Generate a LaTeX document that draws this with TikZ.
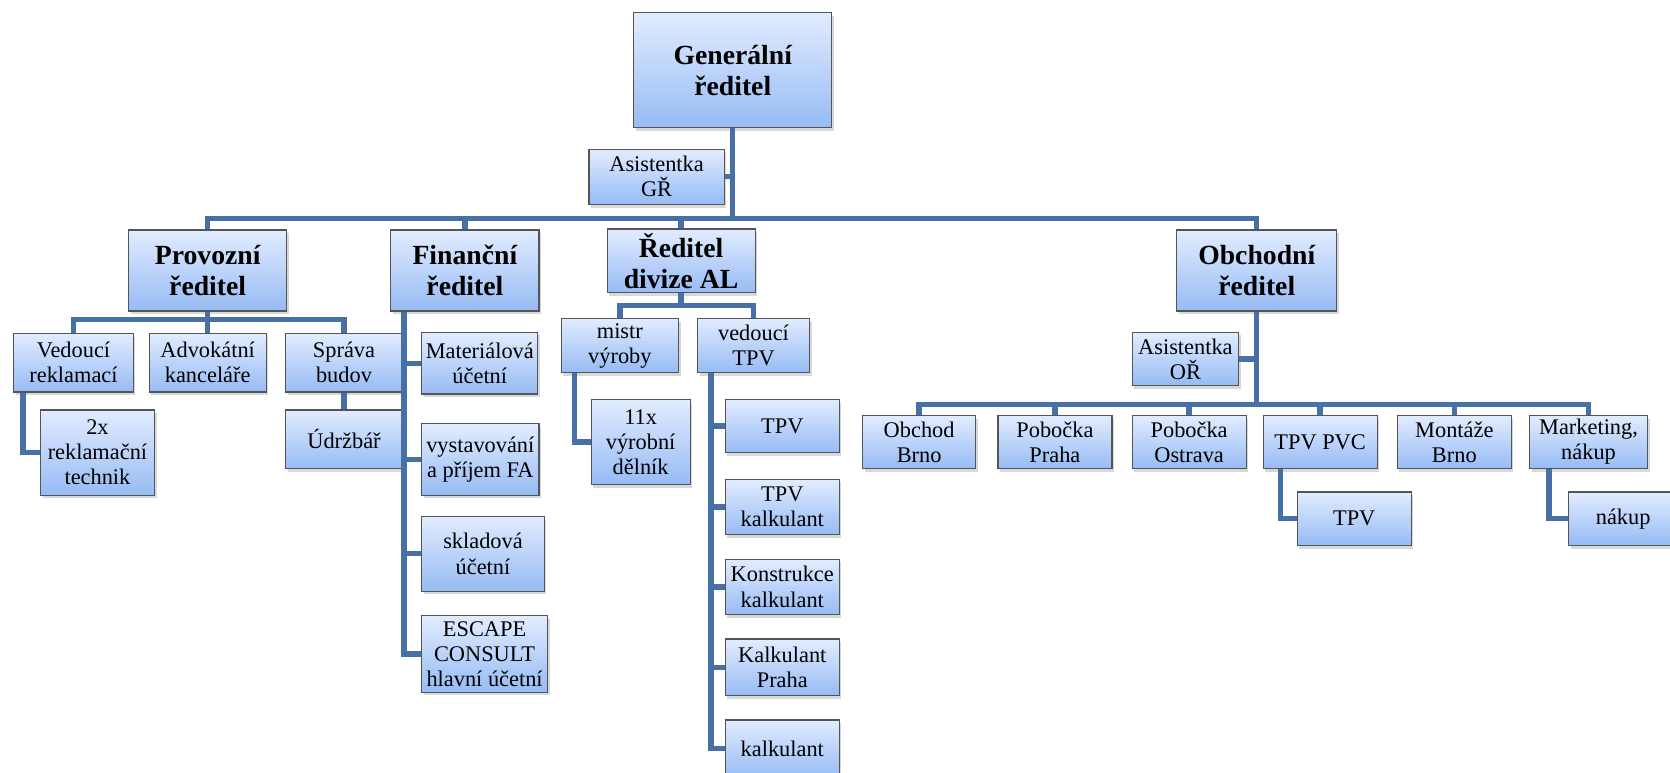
\documentclass[tikz,border=0pt]{standalone}
\usepackage{fontspec}
\setmainfont{Liberation Serif}
\usetikzlibrary{shadows,calc}
\definecolor{conncol}{RGB}{70,112,166}
\definecolor{boxtop}{RGB}{226,236,255}
\definecolor{boxbot}{RGB}{150,187,244}
\definecolor{boxline}{RGB}{85,85,85}
\tikzset{
  box/.style={draw=boxline, line width=1.1pt, top color=boxtop, bottom color=boxbot,
    align=center, inner sep=0pt,
    drop shadow={opacity=0.3, shadow xshift=2pt, shadow yshift=-3pt},
    font=\fontsize{21}{23.5}\selectfont},
  bigbox/.style={box, font=\fontsize{26}{29}\selectfont\bfseries},
  conn/.style={draw=conncol, line width=5pt},
}
\newcommand{\bx}[7][box]{\node[#1, minimum width={#5pt-#3pt}, minimum height={#6pt-#4pt}] (#2) at ({(#3+#5)/2},{(#4+#6)/2}) {#7};}
\begin{document}
\begin{tikzpicture}[x=1pt,y=-1pt]
\fill[white] (0,0) rectangle (1568,725);
\useasboundingbox (0,0) rectangle (1568,725);
% coordinates for bars
\coordinate (bar1) at (0,205);
\coordinate (pbar) at (0,300);
\coordinate (rbar) at (0,287);
\coordinate (obar) at (0,380);
% boxes
\bx[bigbox]{gr}{595}{12}{781}{120}{Generální\\ředitel}
\bx{agr}{553}{140}{680}{192}{Asistentka\\GŘ}
\bx[bigbox]{prov}{121}{216}{269}{292}{Provozní\\ředitel}
\bx[bigbox]{fin}{367}{216}{506}{292}{Finanční\\ředitel}
\bx[bigbox]{ral}{570}{215}{709}{275}{Ředitel\\divize AL}
\bx[bigbox]{obr}{1105}{216}{1255}{292}{Obchodní\\ředitel}
\bx{vr}{13}{313}{125}{368}{Vedoucí\\reklamací}
\bx{ak}{140}{313}{250}{368}{Advokátní\\kanceláře}
\bx{sb}{268}{313}{378}{368}{Správa\\budov}
\bx{tech}{38}{385}{145}{465}{2x\\reklamační\\technik}
\bx{ud}{268}{385}{378}{440}{Údržbář}
\bx{mat}{396}{312}{505}{370}{Materiálová\\účetní}
\bx{vys}{396}{398}{506}{465}{vystavování\\a příjem FA}
\bx{skl}{396}{485}{511}{555}{skladová\\účetní}
\bx{esc}{396}{578}{514}{650}{ESCAPE\\CONSULT\\hlavní účetní}
\bx{mv}{527}{299}{637}{350}{mistr\\výroby}
\bx{vt}{655}{299}{760}{350}{vedoucí\\TPV}
\bx{del}{555}{375}{648}{455}{11x\\výrobní\\dělník}
\bx{ta}{681}{375}{788}{425}{TPV}
\bx{tb}{681}{450}{788}{502}{TPV\\kalkulant}
\bx{tc}{681}{525}{788}{577}{Konstrukce\\kalkulant}
\bx{td}{681}{600}{788}{653}{Kalkulant\\Praha}
\bx{te}{681}{676}{788}{730}{kalkulant}
\bx{aor}{1063}{312}{1163}{362}{Asistentka\\OŘ}
\bx{oa}{810}{390}{916}{440}{Obchod\\Brno}
\bx{ob}{937}{390}{1044}{440}{Pobočka\\Praha}
\bx{oc}{1063}{390}{1170}{440}{Pobočka\\Ostrava}
\bx{od}{1186}{390}{1293}{440}{TPV PVC}
\bx{oe}{1312}{390}{1419}{440}{Montáže\\Brno}
\bx{of}{1436}{390}{1547}{440}{Marketing,\\nákup}
\bx{tp}{1218}{462}{1325}{512}{TPV}
\bx{nak}{1473}{462}{1575}{512}{nákup}
% connectors
\begin{scope}[on background layer/.try]
\end{scope}
\draw[conn] (gr.south) -- (gr.south |- bar1);
\draw[conn] (agr.east) -- (agr.east -| gr.south);
\draw[conn] (prov.north) -- (prov.north |- bar1) -- (obr.north |- bar1) -- (obr.north);
\draw[conn] (fin.north) -- (fin.north |- bar1);
\draw[conn] (ral.north) -- (ral.north |- bar1);
% Provozni
\draw[conn] (prov.south) -- (ak.north);
\draw[conn] (vr.north) -- (vr.north |- pbar) -- (sb.north |- pbar) -- (sb.north);
\coordinate (vrx) at ($(vr.south west)+(9,0)$);
\draw[conn] (vrx) |- (tech.west);
\draw[conn] (sb.south) -- (ud.north);
% Financni
\coordinate (fx) at ($(fin.south west)+(13,0)$);
\draw[conn] (fx) |- (esc.west);
\foreach \n in {mat,vys,skl} \draw[conn] (\n.west) -- (\n.west -| fx);
% Reditel AL
\draw[conn] (ral.south) -- (ral.south |- rbar);
\draw[conn] (mv.north) -- (mv.north |- rbar) -- (vt.north |- rbar) -- (vt.north);
\coordinate (mvx) at ($(mv.south west)+(13,0)$);
\draw[conn] (mvx) |- (del.west);
\coordinate (vtx) at ($(vt.south west)+(13,0)$);
\draw[conn] (vtx) |- (te.west);
\foreach \n in {ta,tb,tc,td} \draw[conn] (\n.west) -- (\n.west -| vtx);
% Obchodni
\draw[conn] (obr.south) -- (obr.south |- obar);
\draw[conn] (aor.east) -- (aor.east -| obr.south);
\draw[conn] (oa.north) -- (oa.north |- obar) -- (of.north |- obar) -- (of.north);
\foreach \n in {ob,oc,od,oe} \draw[conn] (\n.north) -- (\n.north |- obar);
\coordinate (odx) at ($(od.south west)+(17,0)$);
\draw[conn] (odx) |- (tp.west);
\coordinate (ofx) at ($(of.south west)+(19,0)$);
\draw[conn] (ofx) |- (nak.west);
\end{tikzpicture}
\end{document}
